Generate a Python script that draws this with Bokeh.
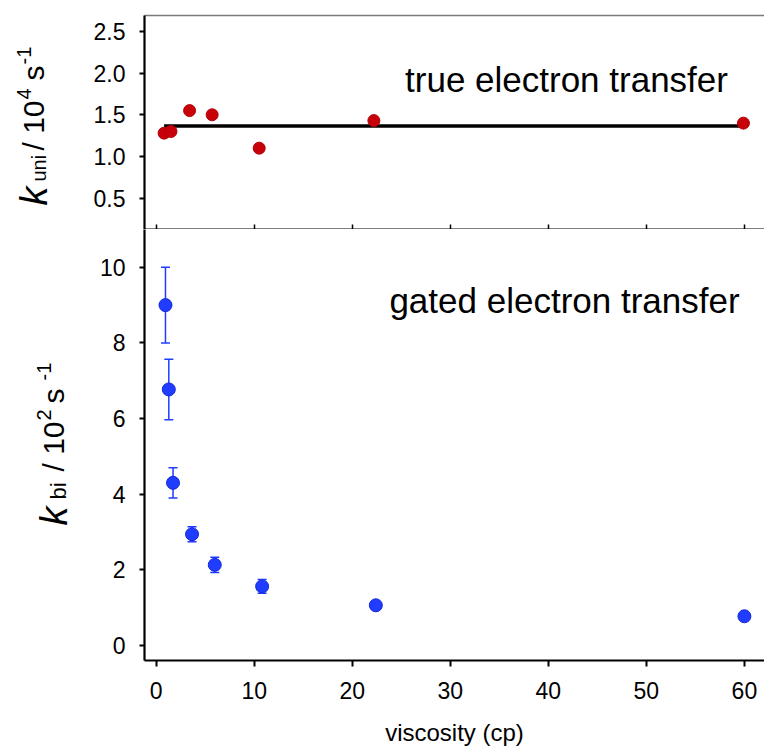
import numpy as np
from bokeh.plotting import figure
from bokeh.models import (Range1d, FixedTicker, LinearAxis, Label, Whisker,
                          ColumnDataSource, TeeHead, PrintfTickFormatter)
from bokeh.layouts import column, row
from bokeh.embed import file_html
from bokeh.resources import INLINE

# unimolecular (true) electron transfer rates, 10^4 s^-1
visc_uni = [0.8, 1.5, 3.4, 5.7, 10.5, 22.2, 59.9]
k_uni = [1.28, 1.30, 1.55, 1.50, 1.10, 1.43, 1.40]

# bimolecular (gated) electron transfer rates, 10^2 s^-1
visc_bi = [0.94, 1.28, 1.71, 3.65, 5.97, 10.8, 22.4, 60.0]
k_bi = [9.0, 6.77, 4.30, 2.94, 2.13, 1.56, 1.06, 0.77]
k_bi_err = [1.0, 0.8, 0.4, 0.2, 0.2, 0.18, 0.05, 0.05]

x_ticks = [0, 10, 20, 30, 40, 50, 60]
uni_ticks = [0.5, 1.0, 1.5, 2.0, 2.5]
bi_ticks = [0, 2, 4, 6, 8, 10]

FONT = "Liberation Sans"
W, H = 764, 748
LABEL_W = 85          # strip holding the rotated y-axis titles
LEFT = 144            # page x of both panels' left axis
X0, X1 = -1.2, 62.05
TOP_Y0, TOP_Y1 = 0.125, 2.69
BOT_Y0, BOT_Y1 = -0.4, 11.0
TOP_H = 229           # page y of the panel separator
TOP_FRAME_TOP = 15
BOT_FRAME_BOTTOM = 661


def px_to_x(px):
    return X0 + (px - LEFT) * (X1 - X0) / (W - LEFT)


def top_py_to_y(py):
    return TOP_Y0 + (TOP_H - py) * (TOP_Y1 - TOP_Y0) / (TOP_H - TOP_FRAME_TOP)


def bot_py_to_y(py):
    return BOT_Y0 + (BOT_FRAME_BOTTOM - py) * (BOT_Y1 - BOT_Y0) / (BOT_FRAME_BOTTOM - TOP_H)


def style_left_axis(ax, ticks, fmt=None):
    ax.ticker = FixedTicker(ticks=ticks)
    ax.axis_line_width = 2.2
    ax.axis_line_color = "black"
    ax.major_tick_out = 5
    ax.major_tick_in = 0
    ax.major_tick_line_width = 2
    ax.minor_tick_out = 0
    ax.minor_tick_in = 0
    ax.major_label_text_font = FONT
    ax.major_label_text_font_size = "23px"
    ax.major_label_text_color = "black"
    ax.major_label_standoff = 14
    if fmt:
        ax.formatter = PrintfTickFormatter(format=fmt)


def bare_figure(**kw):
    p = figure(output_backend="svg", toolbar_location=None,
               x_axis_location=None, y_axis_location=None, **kw)
    p.outline_line_color = None
    p.xgrid.visible = False
    p.ygrid.visible = False
    return p


# ---------------- strip with the rotated y-axis titles ----------------
lab = bare_figure(width=LABEL_W, height=H, x_range=Range1d(0, LABEL_W),
                  y_range=Range1d(H, 0), min_border_left=0, min_border_right=0,
                  min_border_top=0, min_border_bottom=0)


def add_rotated_title(pieces):
    # pieces: (text, font size, baseline x, start y going upward, style)
    for text, size, bx, by, style in pieces:
        lab.add_layout(Label(x=bx, y=by, text=text, angle=np.pi / 2,
                             text_font=FONT, text_font_size=f"{size}px",
                             text_font_style=style, text_align="left",
                             text_baseline="alphabetic", text_color="black"))


add_rotated_title([
    ("k", 38, 33, 205, "italic"),
    ("uni", 20, 38, 181, "normal"),
    ("/ 10", 30, 33, 150, "normal"),
    ("4", 20, 23, 99, "normal"),
    ("s", 30, 33, 80, "normal"),
    ("-1", 20, 23, 64, "normal"),
])
add_rotated_title([
    ("k", 38, 53, 525, "italic"),
    ("bi", 22, 58, 499, "normal"),
    ("/ 10", 30, 53, 471, "normal"),
    ("2", 20, 43, 420, "normal"),
    ("s", 30, 53, 403, "normal"),
    ("-1", 20, 43, 380, "normal"),
])

# ---------------- top panel: true electron transfer ----------------
top = bare_figure(width=W - LABEL_W, height=TOP_H, x_range=Range1d(X0, X1),
                  y_range=Range1d(TOP_Y0, TOP_Y1),
                  min_border_left=LEFT - LABEL_W, min_border_right=0,
                  min_border_top=TOP_FRAME_TOP, min_border_bottom=0)

ax_l = LinearAxis()
style_left_axis(ax_l, uni_ticks, "%.1f")
top.add_layout(ax_l, "left")

# separator between the panels, with inward ticks only
ax_sep = LinearAxis(ticker=FixedTicker(ticks=[], minor_ticks=x_ticks))
ax_sep.axis_line_width = 2
ax_sep.major_tick_in = 0
ax_sep.major_tick_out = 0
ax_sep.minor_tick_in = 5
ax_sep.minor_tick_out = 0
ax_sep.minor_tick_line_width = 1.5
ax_sep.minor_tick_line_color = "black"
ax_sep.major_label_standoff = 0
top.add_layout(ax_sep, "below")

ax_top = LinearAxis(ticker=FixedTicker(ticks=[]))
ax_top.axis_line_color = "#7a7a7a"
ax_top.axis_line_width = 1.5
ax_top.major_tick_in = 0
ax_top.major_tick_out = 0
ax_top.minor_tick_in = 0
ax_top.minor_tick_out = 0
ax_top.major_label_standoff = 0
top.add_layout(ax_top, "above")

fit_level = float(np.mean(k_uni))
top.line([min(visc_uni), max(visc_uni)], [fit_level, fit_level],
         line_color="black", line_width=3.5)
top.scatter(visc_uni, k_uni, size=12, fill_color="#c8000a", line_color="#b00008",
            line_width=1)

top.add_layout(Label(x=px_to_x(566), y=top_py_to_y(79), text="true electron transfer",
                     text_font=FONT, text_font_size="35px", text_align="center",
                     text_baseline="alphabetic", text_color="black"))

# ---------------- bottom panel: gated electron transfer ----------------
bot = bare_figure(width=W - LABEL_W, height=H - TOP_H, x_range=top.x_range,
                  y_range=Range1d(BOT_Y0, BOT_Y1),
                  min_border_left=LEFT - LABEL_W, min_border_right=0,
                  min_border_top=0, min_border_bottom=H - BOT_FRAME_BOTTOM)

ax_bl = LinearAxis()
style_left_axis(ax_bl, bi_ticks)
bot.add_layout(ax_bl, "left")

ax_b = LinearAxis(ticker=FixedTicker(ticks=x_ticks))
ax_b.axis_line_width = 2
ax_b.major_tick_out = 6
ax_b.major_tick_in = 0
ax_b.major_tick_line_width = 2
ax_b.minor_tick_in = 0
ax_b.minor_tick_out = 0
ax_b.major_label_text_font = FONT
ax_b.major_label_text_font_size = "23px"
ax_b.major_label_text_color = "black"
ax_b.major_label_standoff = 15
ax_b.axis_label = "viscosity (cp)"
ax_b.axis_label_text_font = FONT
ax_b.axis_label_text_font_size = "24px"
ax_b.axis_label_text_font_style = "normal"
ax_b.axis_label_text_color = "black"
ax_b.axis_label_standoff = 17
bot.add_layout(ax_b, "below")

err_src = ColumnDataSource(dict(
    x=visc_bi,
    upper=[v + e for v, e in zip(k_bi, k_bi_err)],
    lower=[v - e for v, e in zip(k_bi, k_bi_err)],
))
blue = "#1f3cff"
bot.add_layout(Whisker(source=err_src, base="x", upper="upper", lower="lower",
                       line_color=blue, line_width=1.5,
                       upper_head=TeeHead(size=9, line_color=blue, line_width=1.5),
                       lower_head=TeeHead(size=9, line_color=blue, line_width=1.5)))
bot.scatter(visc_bi, k_bi, size=13, fill_color=blue, line_color="#1428d8", line_width=1)

bot.add_layout(Label(x=px_to_x(564), y=bot_py_to_y(300), text="gated electron transfer",
                     text_font=FONT, text_font_size="35px", text_align="center",
                     text_baseline="alphabetic", text_color="black"))

layout = row(lab, column(top, bot, spacing=0), spacing=0)
open("out.html", "w").write(file_html(layout, INLINE))
